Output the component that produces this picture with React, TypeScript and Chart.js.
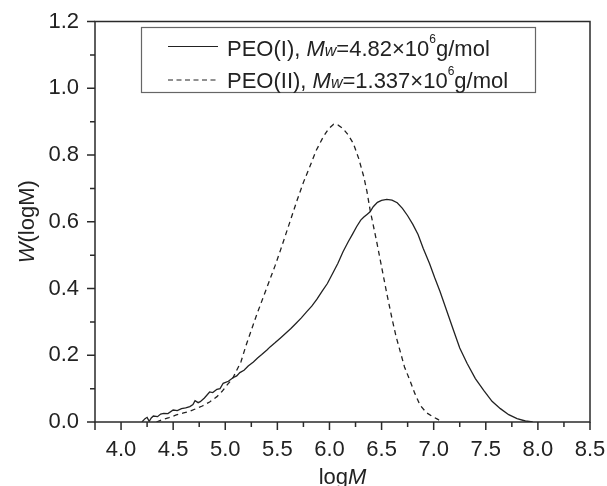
import React, { useEffect, useRef } from "react";
import { Chart, registerables } from "chart.js";

Chart.register(...registerables);

// PEO(I) — solid curve
const peo1X = [4.20, 4.23, 4.25, 4.27, 4.29, 4.31, 4.35, 4.38, 4.41, 4.45, 4.50, 4.54, 4.58, 4.62, 4.66, 4.69, 4.71, 4.74, 4.76, 4.80, 4.85, 4.88, 4.92, 4.95, 4.98, 5.03, 5.08, 5.11, 5.14, 5.18, 5.22, 5.27, 5.31, 5.35, 5.40, 5.43, 5.48, 5.53, 5.58, 5.63, 5.68, 5.73, 5.78, 5.83, 5.88, 5.93, 5.98, 6.03, 6.08, 6.13, 6.18, 6.22, 6.26, 6.30, 6.33, 6.36, 6.39, 6.42, 6.46, 6.50, 6.55, 6.60, 6.65, 6.70, 6.75, 6.80, 6.85, 6.90, 6.96, 7.01, 7.06, 7.12, 7.19, 7.25, 7.32, 7.40, 7.48, 7.56, 7.64, 7.72, 7.80, 7.88, 7.95];
const peo1Y = [0.000, 0.010, 0.014, 0.002, 0.012, 0.018, 0.016, 0.024, 0.026, 0.025, 0.036, 0.034, 0.040, 0.042, 0.046, 0.052, 0.064, 0.058, 0.061, 0.072, 0.090, 0.088, 0.098, 0.100, 0.116, 0.122, 0.134, 0.138, 0.148, 0.155, 0.168, 0.180, 0.192, 0.202, 0.216, 0.225, 0.238, 0.252, 0.266, 0.280, 0.296, 0.312, 0.330, 0.347, 0.368, 0.392, 0.415, 0.445, 0.475, 0.510, 0.540, 0.562, 0.585, 0.605, 0.614, 0.622, 0.630, 0.645, 0.658, 0.664, 0.667, 0.665, 0.657, 0.640, 0.618, 0.592, 0.562, 0.520, 0.475, 0.432, 0.392, 0.338, 0.275, 0.222, 0.176, 0.130, 0.095, 0.062, 0.040, 0.022, 0.010, 0.003, 0.000];

// PEO(II) — dashed curve
const peo2X = [4.34, 4.40, 4.46, 4.53, 4.60, 4.66, 4.72, 4.78, 4.85, 4.92, 4.97, 5.02, 5.07, 5.11, 5.15, 5.20, 5.25, 5.30, 5.36, 5.42, 5.48, 5.53, 5.61, 5.69, 5.75, 5.81, 5.87, 5.94, 5.99, 6.04, 6.08, 6.13, 6.18, 6.23, 6.28, 6.33, 6.36, 6.39, 6.42, 6.45, 6.50, 6.55, 6.60, 6.64, 6.68, 6.72, 6.77, 6.82, 6.87, 6.93, 6.99, 7.04, 7.07];
const peo2Y = [0.000, 0.008, 0.013, 0.021, 0.027, 0.032, 0.040, 0.048, 0.060, 0.076, 0.092, 0.112, 0.130, 0.155, 0.180, 0.230, 0.275, 0.320, 0.370, 0.420, 0.470, 0.515, 0.590, 0.665, 0.718, 0.764, 0.812, 0.854, 0.878, 0.892, 0.890, 0.879, 0.860, 0.834, 0.790, 0.734, 0.690, 0.635, 0.590, 0.545, 0.465, 0.385, 0.310, 0.255, 0.210, 0.165, 0.126, 0.085, 0.050, 0.028, 0.016, 0.008, 0.000];

const xTickValues = [4.0, 4.5, 5.0, 5.5, 6.0, 6.5, 7.0, 7.5, 8.0, 8.5];
const yTickValues = [0.0, 0.2, 0.4, 0.6, 0.8, 1.0, 1.2];

const legend1 = [
  { t: "PEO(I), ", style: "", size: 22, dy: 0 },
  { t: "M", style: "italic ", size: 22, dy: 0 },
  { t: "w", style: "italic ", size: 16, dy: 0 },
  { t: "=4.82×10", style: "", size: 22, dy: 0 },
  { t: "6", style: "", size: 12, dy: -13 },
  { t: "g/mol", style: "", size: 22, dy: 0 },
];
const legend2 = [
  { t: "PEO(II), ", style: "", size: 22, dy: 0 },
  { t: "M", style: "italic ", size: 22, dy: 0 },
  { t: "w", style: "italic ", size: 16, dy: 0 },
  { t: "=1.337×10", style: "", size: 22, dy: 0 },
  { t: "6", style: "", size: 12, dy: -13 },
  { t: "g/mol", style: "", size: 22, dy: 0 },
];
const xTitle = [
  { t: "log", style: "", size: 22, dy: 0 },
  { t: "M", style: "italic ", size: 22, dy: 0 },
];
const yTitle = [
  { t: "W", style: "italic ", size: 22, dy: 0 },
  { t: "(logM)", style: "", size: 22, dy: 0 },
];

const FAMILY = "'Liberation Sans', Arial, Helvetica, sans-serif";
const INK = "#222";

type Seg = { t: string; style: string; size: number; dy: number };

function richWidth(ctx: CanvasRenderingContext2D, segs: Seg[]) {
  let w = 0;
  for (const s of segs) {
    ctx.font = `${s.style}${s.size}px ${FAMILY}`;
    w += ctx.measureText(s.t).width;
  }
  return w;
}

function drawRich(ctx: CanvasRenderingContext2D, segs: Seg[], x: number, y: number) {
  ctx.textBaseline = "alphabetic";
  ctx.textAlign = "left";
  for (const s of segs) {
    ctx.font = `${s.style}${s.size}px ${FAMILY}`;
    ctx.fillText(s.t, x, y + s.dy);
    x += ctx.measureText(s.t).width;
  }
}

const decorPlugin = {
  id: "decor",
  afterDraw(chart: any) {
    const { ctx, chartArea: a, scales } = chart;
    const xs = scales.x;
    const ys = scales.y;
    ctx.save();
    ctx.strokeStyle = "#2a2a2a";
    ctx.lineWidth = 1.5;
    ctx.setLineDash([]);
    ctx.strokeRect(a.left, a.top, a.right - a.left, a.bottom - a.top);
    ctx.beginPath();
    for (let k = 0; k <= 19; k++) {
      const v = 3.75 + 0.25 * k;
      const major = k % 2 === 1 || k === 0;
      const px = xs.getPixelForValue(v);
      ctx.moveTo(px, a.bottom);
      ctx.lineTo(px, a.bottom + (major ? 8 : 5));
    }
    for (let k = 0; k <= 12; k++) {
      const v = 0.1 * k;
      const major = k % 2 === 0;
      const py = ys.getPixelForValue(v);
      ctx.moveTo(a.left, py);
      ctx.lineTo(a.left - (major ? 8 : 5), py);
    }
    ctx.stroke();

    // legend
    ctx.strokeStyle = "#666";
    ctx.lineWidth = 1.2;
    ctx.strokeRect(141.5, 27.5, 394, 65);
    ctx.strokeStyle = INK;
    ctx.lineWidth = 1.2;
    ctx.beginPath();
    ctx.moveTo(168, 46.5);
    ctx.lineTo(218, 46.5);
    ctx.stroke();
    ctx.setLineDash([5, 3.5]);
    ctx.beginPath();
    ctx.moveTo(168, 80);
    ctx.lineTo(219, 80);
    ctx.stroke();
    ctx.setLineDash([]);
    ctx.fillStyle = INK;
    drawRich(ctx, legend1, 227, 56);
    drawRich(ctx, legend2, 227, 88);

    // x title
    const cx = (a.left + a.right) / 2;
    const wx = richWidth(ctx, xTitle);
    drawRich(ctx, xTitle, cx - wx / 2, 484);

    // y title
    const cy = (a.top + a.bottom) / 2;
    const wy = richWidth(ctx, yTitle);
    ctx.translate(26, cy);
    ctx.rotate(-Math.PI / 2);
    drawRich(ctx, yTitle, -wy / 2, 8);
    ctx.restore();
  },
};

export default function App() {
  const ref = useRef<HTMLCanvasElement | null>(null);
  useEffect(() => {
    if (!ref.current) return;
    const chart = new Chart(ref.current, {
      type: "line",
      data: {
        datasets: [
          {
            label: "PEO(I)",
            data: peo1X.map((x, i) => ({ x, y: peo1Y[i] })),
            borderColor: INK,
            borderWidth: 1.3,
            pointRadius: 0,
            tension: 0,
            fill: false,
          },
          {
            label: "PEO(II)",
            data: peo2X.map((x, i) => ({ x, y: peo2Y[i] })),
            borderColor: INK,
            borderWidth: 1.3,
            borderDash: [5, 4],
            pointRadius: 0,
            tension: 0,
            fill: false,
          },
        ],
      },
      options: {
        responsive: false,
        animation: false,
        devicePixelRatio: 1,
        layout: { padding: { top: 21.5, right: 17, bottom: 0, left: 0 } },
        plugins: { legend: { display: false }, tooltip: { enabled: false }, title: { display: false } },
        scales: {
          x: {
            type: "linear",
            min: 3.75,
            max: 8.5,
            grid: { display: false, drawTicks: false, tickLength: 0 },
            border: { display: false },
            afterBuildTicks: (s: any) => {
              s.ticks = xTickValues.map((v) => ({ value: v }));
            },
            afterFit: (s: any) => {
              s.height = 64;
              s.paddingLeft = 0;
              s.paddingRight = 0;
            },
            ticks: {
              padding: 15,
              maxRotation: 0,
              autoSkip: false,
              color: INK,
              font: { family: FAMILY, size: 22 },
              callback: (v: any) => Number(v).toFixed(1),
            },
          },
          y: {
            type: "linear",
            min: 0,
            max: 1.2,
            grid: { display: false, drawTicks: false, tickLength: 0 },
            border: { display: false },
            afterBuildTicks: (s: any) => {
              s.ticks = yTickValues.map((v) => ({ value: v }));
            },
            afterFit: (s: any) => {
              s.width = 95;
              s.paddingTop = 0;
              s.paddingBottom = 0;
            },
            ticks: {
              padding: 16,
              autoSkip: false,
              color: INK,
              font: { family: FAMILY, size: 22 },
              callback: (v: any) => Number(v).toFixed(1),
            },
          },
        },
      },
      plugins: [decorPlugin],
    });
    return () => chart.destroy();
  }, []);
  return (
    <div style={{ position: "absolute", left: 0, top: 0, width: 607, height: 486, background: "#fff" }}>
      <canvas ref={ref} width={607} height={486} style={{ display: "block" }} />
    </div>
  );
}
